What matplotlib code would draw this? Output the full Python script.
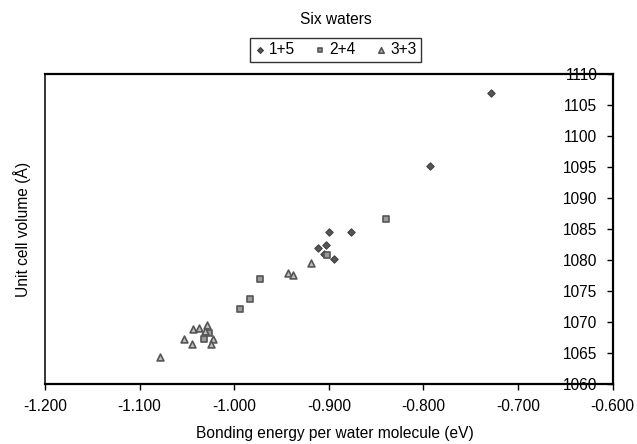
import matplotlib
matplotlib.use("Agg")
import matplotlib.pyplot as plt

plt.rcParams['font.family'] = ['Liberation Sans', 'DejaVu Sans']

# bonding energy per water molecule (eV) / unit cell volume
e_15 = [-0.729, -0.793, -0.877, -0.900, -0.903, -0.911, -0.905, -0.894]
v_15 = [1106.9, 1095.2, 1084.6, 1084.6, 1082.5, 1082.0, 1080.9, 1080.1]

e_24 = [-0.839, -0.902, -0.973, -0.983, -0.994, -1.027, -1.032]
v_24 = [1086.7, 1080.8, 1076.9, 1073.7, 1072.1, 1068.2, 1067.2]

e_33 = [-0.919, -0.943, -0.938, -1.078, -1.053, -1.045, -1.043, -1.037,
        -1.029, -1.031, -1.022, -1.025]
v_33 = [1079.5, 1077.9, 1077.6, 1064.4, 1067.3, 1066.4, 1068.9, 1069.1,
        1069.6, 1068.6, 1067.2, 1066.4]

fs = 11.2

fig = plt.figure(figsize=(6.37, 4.44), dpi=100)
ax = fig.add_axes([0.0706, 0.1351, 0.891, 0.698])

ax.scatter(e_15, v_15, marker='D', s=14, color='#555555', edgecolor='#404040', linewidth=0.8, label='1+5', zorder=3)
ax.scatter(e_24, v_24, marker='s', s=16, color='#9a9a9a', edgecolor='#555555', linewidth=1.2, label='2+4', zorder=3)
ax.scatter(e_33, v_33, marker='^', s=24, color='#bdbdbd', edgecolor='#555555', linewidth=1.2, label='3+3', zorder=3)

ax.set_xlim(-1.2, -0.6)
ax.set_ylim(1060, 1110)
ax.set_xticks([-1.2, -1.1, -1.0, -0.9, -0.8, -0.7, -0.6])
ax.set_xticklabels(['%.3f' % t for t in ax.get_xticks()])
ax.set_yticks(range(1060, 1111, 5))

for s in ax.spines.values():
    s.set_linewidth(1.6)
    s.set_color('black')
ax.spines['left'].set_linewidth(1.1)

ax.tick_params(axis='x', direction='out', length=4, width=1, labelsize=fs, pad=7)
ax.tick_params(axis='y', left=False, right=True, labelleft=False, labelright=True,
               direction='in', length=4.5, width=1, labelsize=fs, pad=-11)
for lab in ax.get_yticklabels():
    lab.set_horizontalalignment('right')

ax.set_xlabel('Bonding energy per water molecule (eV)', fontsize=fs)
ax.xaxis.set_label_coords(0.511, -0.137)
ax.set_ylabel('Unit cell volume (Å)', fontsize=fs, labelpad=10)

fig.text(0.527, 0.957, 'Six waters', ha='center', va='center', fontsize=fs)
leg = fig.legend(loc='center', bbox_to_anchor=(0.527, 0.888), ncol=3, fontsize=fs,
                 frameon=True, fancybox=False, edgecolor='black', handlelength=0.6,
                 handletextpad=0.3, columnspacing=1.3, borderpad=0.3, borderaxespad=0,
                 markerscale=0.8)
leg.get_frame().set_linewidth(1.0)

fig.savefig('out.png', dpi=100)
